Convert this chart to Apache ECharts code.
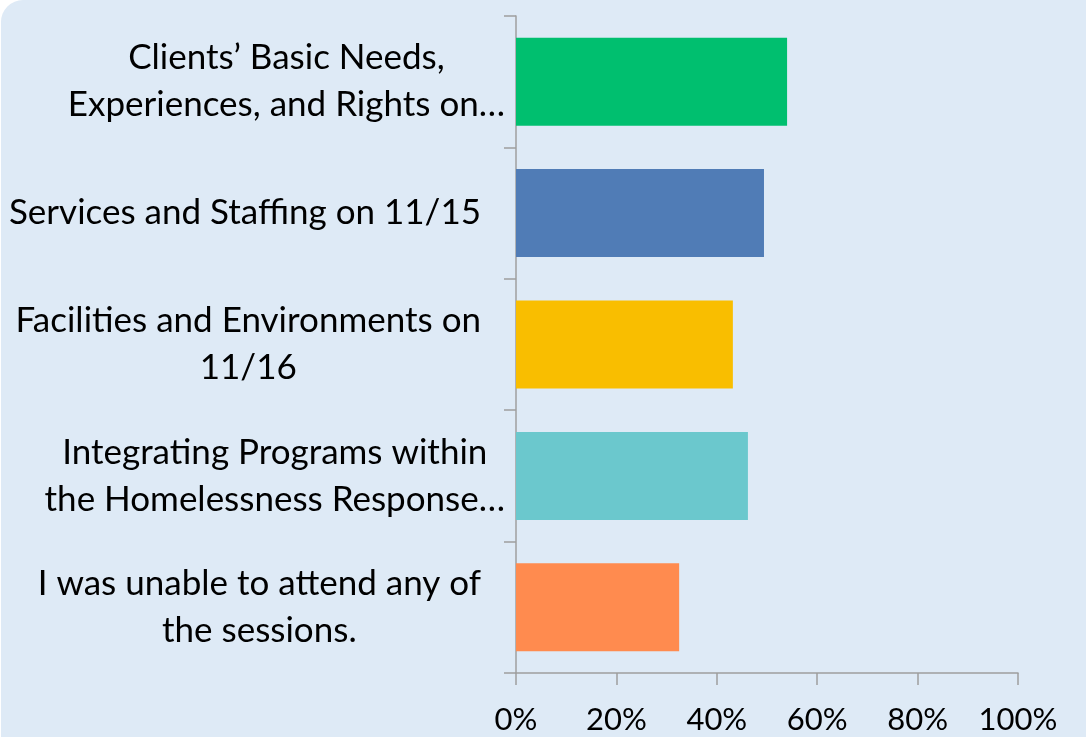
<!DOCTYPE html>
<html>
<head>
<meta charset="utf-8">
<script src="https://cdn.jsdelivr.net/npm/echarts@6/dist/echarts.min.js"></script>
<style>
  html, body { margin: 0; padding: 0; background: #fff; overflow: hidden; }
  #panel {
    position: absolute; left: 1px; top: 0;
    width: 1120px; height: 770px;
    background: #deeaf6;
    border-top-left-radius: 22px;
  }
  #chart { position: absolute; left: 0; top: 0; width: 1086px; height: 737px; }
</style>
</head>
<body>
<div id="panel"></div>
<div id="chart"></div>
<script>
  const categories = [
    ['Clients\u2019 Basic Needs,', 'Experiences, and Rights on\u2026'],
    ['Services and Staffing on 11/15'],
    ['Facilities and Environments on', '11/16'],
    ['Integrating Programs within', 'the Homelessness Response\u2026'],
    ['I was unable to attend any of', 'the sessions.']
  ];
  const truncated = [true, false, false, true, false];
  const values = [54.0, 49.4, 43.2, 46.2, 32.5];
  const colors = ['#00bf6f', '#507cb6', '#f9be00', '#6bc8cd', '#ff8b4f'];
  const xTicks = [0, 20, 40, 60, 80, 100];

  const catData = categories.map((lines, i) => ({
    value: lines.join('\n'),
    textStyle: { padding: [0, truncated[i] ? 0 : 24, 0, 0] }
  }));

  const chart = echarts.init(document.getElementById('chart'));
  chart.setOption({
    backgroundColor: 'transparent',
    animation: false,
    grid: { left: 516, right: 68, top: 16, bottom: 64, containLabel: false },
    xAxis: {
      type: 'value',
      min: xTicks[0],
      max: xTicks[xTicks.length - 1],
      interval: 20,
      axisLine: { show: true, lineStyle: { color: '#9f9f9f', width: 1.5 } },
      axisTick: { show: true, length: 12, lineStyle: { color: '#9f9f9f', width: 1.5 } },
      splitLine: { show: false },
      axisLabel: {
        formatter: '{value}%',
        color: '#000',
        fontFamily: 'Lato',
        fontSize: 31,
        margin: 31
      }
    },
    yAxis: {
      type: 'category',
      inverse: true,
      data: catData,
      axisLine: { show: true, lineStyle: { color: '#9f9f9f', width: 1.5 } },
      axisTick: { show: true, length: 12, lineStyle: { color: '#9f9f9f', width: 1.5 } },
      axisLabel: {
        margin: 11,
        align: 'right',
        formatter: v => v.split('\n').map(s => '{c|' + s + '}').join('\n'),
        rich: {
          c: {
            align: 'center',
            color: '#000',
            fontFamily: 'Lato',
            fontSize: 35,
            lineHeight: 47
          }
        }
      }
    },
    series: [{
      type: 'bar',
      data: values.map((v, i) => ({ value: v, itemStyle: { color: colors[i] } })),
      barWidth: 88
    }]
  });
</script>
</body>
</html>
